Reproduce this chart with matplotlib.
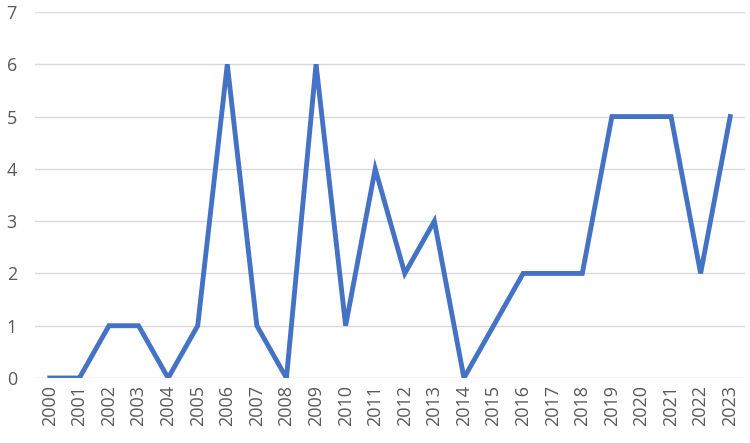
import numpy as np
import matplotlib
matplotlib.use('Agg')
import matplotlib.pyplot as plt

# data
years = [str(y) for y in range(2000, 2024)]
counts = [0, 0, 1, 1, 0, 1, 6, 1, 0, 6, 1, 4, 2, 3, 0, 1, 2, 2, 2, 5, 5, 5, 2, 5]

plt.rcParams['font.family'] = ['Open Sans', 'DejaVu Sans']

fig = plt.figure(figsize=(7.5, 4.43), dpi=100)
ax = fig.add_axes([35 / 750, 1 - 378 / 443, 710 / 750, 366 / 443])

x = np.arange(len(years))
ax.plot(x, counts, color='#4472C4', linewidth=3.5, solid_joinstyle='miter')

ax.set_xlim(-0.5, len(years) - 0.5)
ax.set_ylim(0, 7)
ax.set_yticks(range(0, 8))
ax.set_xticks(x)
ax.set_xticklabels(years, rotation=90)

ax.grid(axis='y', color='#d9d9d9', linewidth=1)
ax.set_axisbelow(True)
for s in ax.spines.values():
    s.set_visible(False)
ax.tick_params(length=0, labelsize=13, labelcolor='#595959')
ax.tick_params(axis='y', pad=13)
ax.tick_params(axis='x', pad=5)

fig.savefig('out.png', dpi=100)
